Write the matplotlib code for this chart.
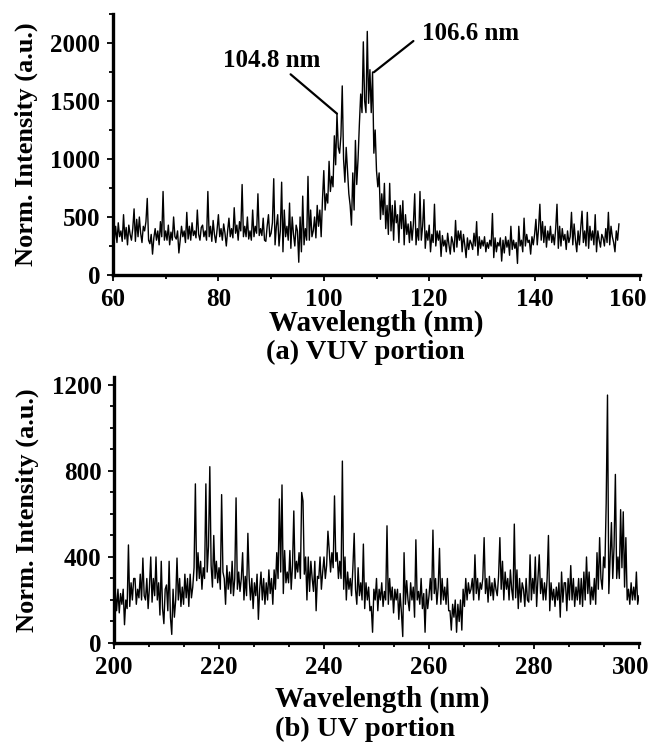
import numpy as np
import matplotlib
matplotlib.use("Agg")
import matplotlib.pyplot as plt
import matplotlib.transforms as mtransforms
from matplotlib.ticker import MultipleLocator, AutoMinorLocator

plt.rcParams["font.family"] = ["Liberation Serif", "DejaVu Serif"]
plt.rcParams["font.weight"] = "bold"

# -----------------------------
# Data (0.25 nm steps, one row per nm)
# -----------------------------
vuv_start, vuv_step = 60.0, 0.25
vuv_intensity = [
    740, 300, 420, 280,   450, 330, 380, 290,   520, 310, 410, 260,   430, 350, 300, 400,
    570, 290, 480, 330,   500, 360, 280, 420,   380, 460, 660, 300,   270, 350, 180, 320,
    400, 300, 380, 260,   460, 330, 720, 300,   380, 300, 430, 260,   370, 300, 500, 330,
    310, 380, 190, 300,   420, 330, 380, 280,   540, 310, 420, 300,   450, 340, 380, 320,
    560, 350, 300, 410,   430, 330, 380, 300,   720, 330, 420, 290,   470, 350, 280, 390,
    520, 330, 400, 300,   440, 360, 250, 380,   490, 330, 400, 320,   580, 360, 430, 300,
    460, 380, 780, 330,   420, 330, 500, 310,   380, 300, 560, 330,   420, 360, 700, 340,
    400, 340, 490, 300,   290, 420, 520, 330,   360, 450, 830, 260,   420, 520, 250, 380,
    800, 200, 560, 330,   420, 300, 620, 230,   500, 350, 250, 430,   380, 110, 500, 200,
    680, 260, 400, 300,   850, 300, 560, 330,   380, 500, 320, 600,   420, 560, 330, 650,
    900, 560, 700, 620,   980, 720, 850, 760,   1200, 950, 1390, 1100, 1050, 1200, 1630, 1000,
    800, 1100, 900, 700,  600, 430, 880, 560,   1160, 780, 1000, 1300, 1560, 1400, 2010, 1500,
    1400, 2100, 1480, 1770, 1400, 1750, 1050, 1250, 900, 760, 880, 480, 700, 520, 790, 400,
    600, 350, 790, 380,   600, 300, 640, 450,   520, 280, 600, 400,   640, 260, 520, 350,
    440, 280, 460, 300,   440, 700, 260, 400,   300, 720, 300, 420,   650, 230, 380, 300,
    430, 200, 350, 280,   610, 250, 380, 300,   380, 160, 340, 250,   300, 200, 360, 260,
    180, 330, 280, 200,   470, 240, 380, 300,   380, 200, 350, 260,   150, 320, 220, 300,
    270, 220, 360, 250,   460, 170, 330, 230,   300, 250, 330, 200,   280, 230, 300, 250,
    530, 150, 320, 200,   280, 250, 320, 120,   300, 190, 330, 240,   300, 170, 420, 220,
    300, 230, 280, 100,   420, 250, 300, 200,   490, 250, 350, 280,   300, 180, 330, 260,
    350, 480, 260, 400,   610, 300, 460, 280,   420, 240, 380, 300,   420, 280, 350, 260,
    400, 610, 230, 420,   250, 400, 300, 350,   220, 380, 280, 330,   540, 260, 440, 300,
    200, 380, 260, 400,   550, 280, 380, 250,   540, 230, 420, 300,   380, 260, 520, 200,
    380, 300, 240, 350,   320, 250, 400, 280,   540, 260, 420, 330,   280, 200, 380, 300,
    440,
]

uv_start, uv_step = 200.25, 0.25
uv_intensity = [
    240, 150, 250,
    140, 230, 180, 250,   85, 200, 160, 456,    170, 280, 200, 300,   300, 180, 250, 210,
    320, 200, 395, 220,   200, 300, 160, 260,   400, 190, 300, 220,   400, 200, 280, 130,
    380, 160, 90, 250,    270, 150, 380, 120,   40, 250, 120, 200,    395, 200, 300, 170,
    260, 180, 320, 210,   300, 170, 320, 210,   260, 350, 740, 290,   420, 300, 380, 250,
    350, 300, 740, 330,   450, 820, 360, 260,   500, 300, 380, 280,   350, 250, 690, 330,
    300, 180, 360, 250,   330, 230, 380, 220,   300, 675, 250, 330,   240, 300, 420, 200,
    310, 220, 510, 300,   200, 300, 160, 280,   220, 320, 110, 250,   330, 200, 300, 180,
    280, 200, 340, 230,   300, 180, 340, 250,   420, 300, 670, 330,   735, 230, 430, 280,
    330, 280, 430, 250,   360, 614, 300, 380,   330, 420, 300, 700,   660, 320, 400, 200,
    400, 240, 380, 300,   240, 380, 150, 310,   300, 400, 250, 330,   400, 300, 360, 520,
    430, 330, 420, 350,   684, 380, 420, 300,   380, 300, 846, 250,   400, 200, 330, 250,
    300, 220, 350, 510,   250, 180, 350, 220,   280, 200, 460, 160,   280, 200, 260, 150,
    170, 50, 250, 200,    300, 150, 250, 200,   280, 170, 240, 200,   545, 180, 300, 200,
    260, 140, 250, 200,   250, 110, 230, 140,   30, 420, 180, 290,    200, 150, 280, 200,
    260, 120, 480, 200,   240, 180, 300, 160,   230, 50, 250, 160,    220, 300, 200, 525,
    230, 300, 180, 260,   440, 180, 300, 200,   260, 180, 300, 150,   150, 60, 180, 120,
    200, 50, 180, 100,    200, 60, 250, 170,    300, 200, 280, 230,   250, 300, 200, 410,
    230, 300, 200, 280,   250, 300, 490, 230,   300, 190, 310, 220,   280, 200, 300, 250,
    220, 310, 490, 250,   380, 200, 330, 250,   300, 200, 340, 250,   200, 553, 210, 340,
    160, 300, 190, 280,   250, 170, 300, 200,   190, 410, 200, 300,   230, 400, 170, 300,
    410, 230, 300, 200,   280, 200, 300, 500,   150, 280, 200, 250,   170, 260, 200, 280,
    120, 330, 190, 280,   280, 150, 300, 200,   360, 200, 300, 170,   260, 200, 300, 180,
    300, 170, 330, 200,   400, 230, 330, 180,   260, 200, 300, 180,   420, 250, 490, 300,
    250, 400, 350, 650,   1153, 230, 400, 560, 300, 450, 784, 300,   400, 300, 620, 350,
    610, 260, 490, 200,   250, 180, 280, 200,   260, 200, 330, 180,
    220,
]

vuv_wl = vuv_start + vuv_step * np.arange(len(vuv_intensity))
uv_wl = uv_start + uv_step * np.arange(len(uv_intensity))

fig = plt.figure(figsize=(6.55, 7.42), dpi=100)
W, H = 655, 742


def px_text(x, y, s, size):
    fig.text(x / W, 1 - y / H, s, fontsize=size, fontweight="bold",
             ha="center", va="center")


def style_axes(ax):
    for side in ["top", "right"]:
        ax.spines[side].set_visible(False)
    for side in ["left", "bottom"]:
        ax.spines[side].set_linewidth(2.4)
    ax.tick_params(which="both", direction="out", width=1.3, labelsize=18, pad=5)
    ax.tick_params(which="major", length=4)
    ax.tick_params(which="minor", length=3)
    ax.yaxis.set_label_coords(-0.143, 0.5)


# -----------------------------
# (a) VUV portion
# -----------------------------
ax1 = fig.add_axes([113 / W, 1 - 275 / H, 527 / W, 261 / H])
ax1.plot(vuv_wl, vuv_intensity, color="black", linewidth=1.0)
ax1.set_xlim(60, 160)
ax1.set_ylim(0, 2250)
ax1.xaxis.set_major_locator(MultipleLocator(20))
ax1.xaxis.set_minor_locator(AutoMinorLocator(2))
ax1.yaxis.set_major_locator(MultipleLocator(500))
ax1.yaxis.set_minor_locator(AutoMinorLocator(2))
ax1.set_ylabel("Norm. Intensity (a.u.)", fontsize=19, fontweight="bold")
style_axes(ax1)

ax1.annotate("", xy=(102.5, 1391), xytext=(93.7, 1730),
             arrowprops=dict(arrowstyle="-", lw=1.6, color="black", shrinkA=0, shrinkB=0))
ax1.annotate("", xy=(109.5, 1748), xytext=(117.0, 2017),
             arrowprops=dict(arrowstyle="-", lw=1.6, color="black", shrinkA=0, shrinkB=0))
ax1.text(90.1, 1845, "104.8 nm", fontsize=18, fontweight="bold", ha="center", va="center")
ax1.text(127.8, 2080, "106.6 nm", fontsize=18, fontweight="bold", ha="center", va="center")

px_text(376, 323, "Wavelength (nm)", 21)
px_text(365, 352, "(a) VUV portion", 20.5)

# -----------------------------
# (b) UV portion
# -----------------------------
ax2 = fig.add_axes([114 / W, 1 - 643 / H, 525 / W, 266 / H])
ax2.plot(uv_wl, uv_intensity, color="black", linewidth=1.0)
ax2.set_xlim(200, 300)
ax2.set_ylim(0, 1237)
ax2.xaxis.set_major_locator(MultipleLocator(20))
ax2.xaxis.set_minor_locator(AutoMinorLocator(3))
ax2.yaxis.set_major_locator(MultipleLocator(400))
ax2.yaxis.set_minor_locator(AutoMinorLocator(4))
ax2.set_ylabel("Norm. Intensity (a.u.)", fontsize=19, fontweight="bold")
style_axes(ax2)

px_text(382, 699, "Wavelength (nm)", 21)
px_text(365, 729, "(b) UV portion", 20.5)

# nudge the right-most x tick label of each panel inside the figure
fig.canvas.draw()
for ax, text, dx in [(ax1, "160", -12), (ax2, "300", -8)]:
    for lab in ax.get_xticklabels():
        if lab.get_text() == text:
            lab.set_transform(lab.get_transform() +
                              mtransforms.ScaledTranslation(dx / 100, 0, fig.dpi_scale_trans))

fig.savefig("out.png", dpi=100)
plt.close(fig)
